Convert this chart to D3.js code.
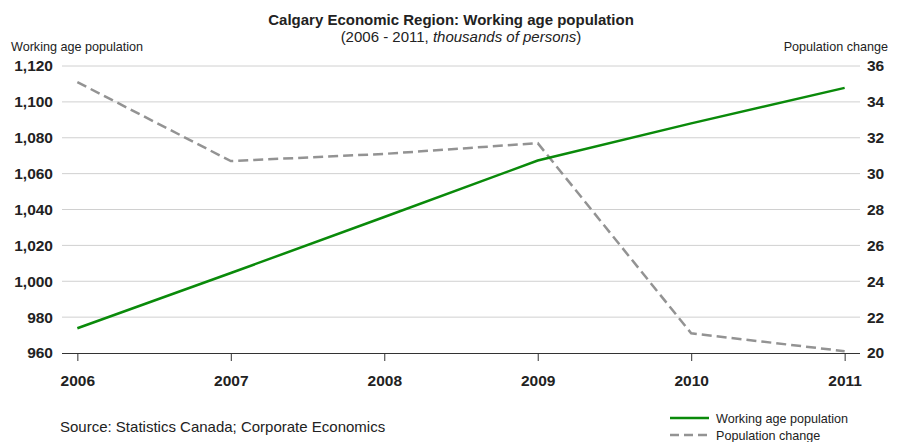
<!DOCTYPE html>
<html>
<head>
<meta charset="utf-8">
<script src="https://cdn.jsdelivr.net/npm/d3@7"></script>
<style>
  html, body { margin: 0; padding: 0; background: #fff; }
  svg { display: block; font-family: "Liberation Sans", Arial, sans-serif; }
</style>
</head>
<body>
<svg id="chart" width="902" height="442"></svg>
<script>
// Calgary Economic Region working age population, 2006-2011 (thousands)
const years = ["2006", "2007", "2008", "2009", "2010", "2011"];
const workingAge = [973.8, 1004.6, 1035.8, 1067.3, 1088.0, 1107.8];
const popChange = [35.1, 30.7, 31.1, 31.7, 21.1, 20.1];
const leftTicks = [960, 980, 1000, 1020, 1040, 1060, 1080, 1100, 1120];
const rightTicks = [20, 22, 24, 26, 28, 30, 32, 34, 36];

const svg = d3.select("#chart");
const plot = { left: 62, right: 860, top: 66, bottom: 353 };
const FONT = "'Liberation Sans', Arial, sans-serif";

const x = d3.scalePoint().domain(years).range([plot.left, plot.right]).padding(0.1);
const yL = d3.scaleLinear().domain([960, 1120]).range([plot.bottom, plot.top]);
const yR = d3.scaleLinear().domain([20, 36]).range([plot.bottom, plot.top]);

// Title block
svg.append("text").attr("x", 451).attr("y", 25).attr("text-anchor", "middle")
  .attr("font-size", 15).attr("font-weight", "bold").attr("fill", "#222")
  .text("Calgary Economic Region: Working age population");
const sub = svg.append("text").attr("x", 461).attr("y", 42).attr("text-anchor", "middle")
  .attr("font-size", 15).attr("fill", "#222");
sub.append("tspan").text("(2006 - 2011, ");
sub.append("tspan").attr("font-style", "italic").text("thousands of persons");
sub.append("tspan").text(")");

svg.append("text").attr("x", 11).attr("y", 51).attr("font-size", 12.6).attr("fill", "#222")
  .text("Working age population");
svg.append("text").attr("x", 888).attr("y", 51).attr("text-anchor", "end")
  .attr("font-size", 12.6).attr("fill", "#222").text("Population change");

// Gridlines
svg.append("g").selectAll("line").data(leftTicks.slice(1)).join("line")
  .attr("x1", plot.left).attr("x2", plot.right)
  .attr("y1", d => yL(d)).attr("y2", d => yL(d))
  .attr("stroke", "#d0d0d0").attr("stroke-width", 1);

// Left axis
const gL = svg.append("g").attr("transform", `translate(${plot.left},0)`)
  .call(d3.axisLeft(yL).tickValues(leftTicks).tickFormat(d3.format(",")).tickSize(0).tickPadding(9));
gL.attr("font-family", FONT);
gL.select(".domain").remove();
gL.selectAll("text").attr("font-size", 15.5).attr("font-weight", "bold").attr("fill", "#222");

// Right axis
const gR = svg.append("g").attr("transform", `translate(${plot.right},0)`)
  .call(d3.axisRight(yR).tickValues(rightTicks).tickSize(0).tickPadding(7));
gR.attr("font-family", FONT);
gR.select(".domain").remove();
gR.selectAll("text").attr("font-size", 15.5).attr("font-weight", "bold").attr("fill", "#222");

// Bottom axis
const gB = svg.append("g").attr("transform", `translate(0,${plot.bottom})`)
  .call(d3.axisBottom(x).tickSize(8).tickPadding(14).tickSizeOuter(0));
gB.attr("font-family", FONT);
gB.select(".domain").attr("stroke", "#333").attr("d", `M${plot.left},0.5H${plot.right}`);
gB.selectAll(".tick line").attr("stroke", "#333");
gB.selectAll("text").attr("font-size", 15.5).attr("font-weight", "bold").attr("fill", "#222");

// Series lines
const lineL = d3.line().x((d, i) => x(years[i])).y(d => yL(d));
const lineR = d3.line().x((d, i) => x(years[i])).y(d => yR(d));

svg.append("path").datum(popChange).attr("d", lineR)
  .attr("fill", "none").attr("stroke", "#939393").attr("stroke-width", 2.5)
  .attr("stroke-dasharray", "10,5");
svg.append("path").datum(workingAge).attr("d", lineL)
  .attr("fill", "none").attr("stroke", "#0a8a0a").attr("stroke-width", 2.5);

// Source note
svg.append("text").attr("x", 60).attr("y", 432).attr("font-size", 15).attr("fill", "#222")
  .text("Source: Statistics Canada; Corporate Economics");

// Legend
const legend = [
  { label: "Working age population", color: "#0a8a0a", dash: null },
  { label: "Population change", color: "#939393", dash: "9,5" }
];
const lg = svg.append("g");
legend.forEach((d, i) => {
  const yy = 418 + i * 17;
  lg.append("line").attr("x1", 670).attr("x2", 709).attr("y1", yy).attr("y2", yy)
    .attr("stroke", d.color).attr("stroke-width", 2.5).attr("stroke-dasharray", d.dash);
  lg.append("text").attr("x", 716).attr("y", yy + 4.5).attr("font-size", 12.6).attr("fill", "#222")
    .text(d.label);
});
</script>
</body>
</html>
